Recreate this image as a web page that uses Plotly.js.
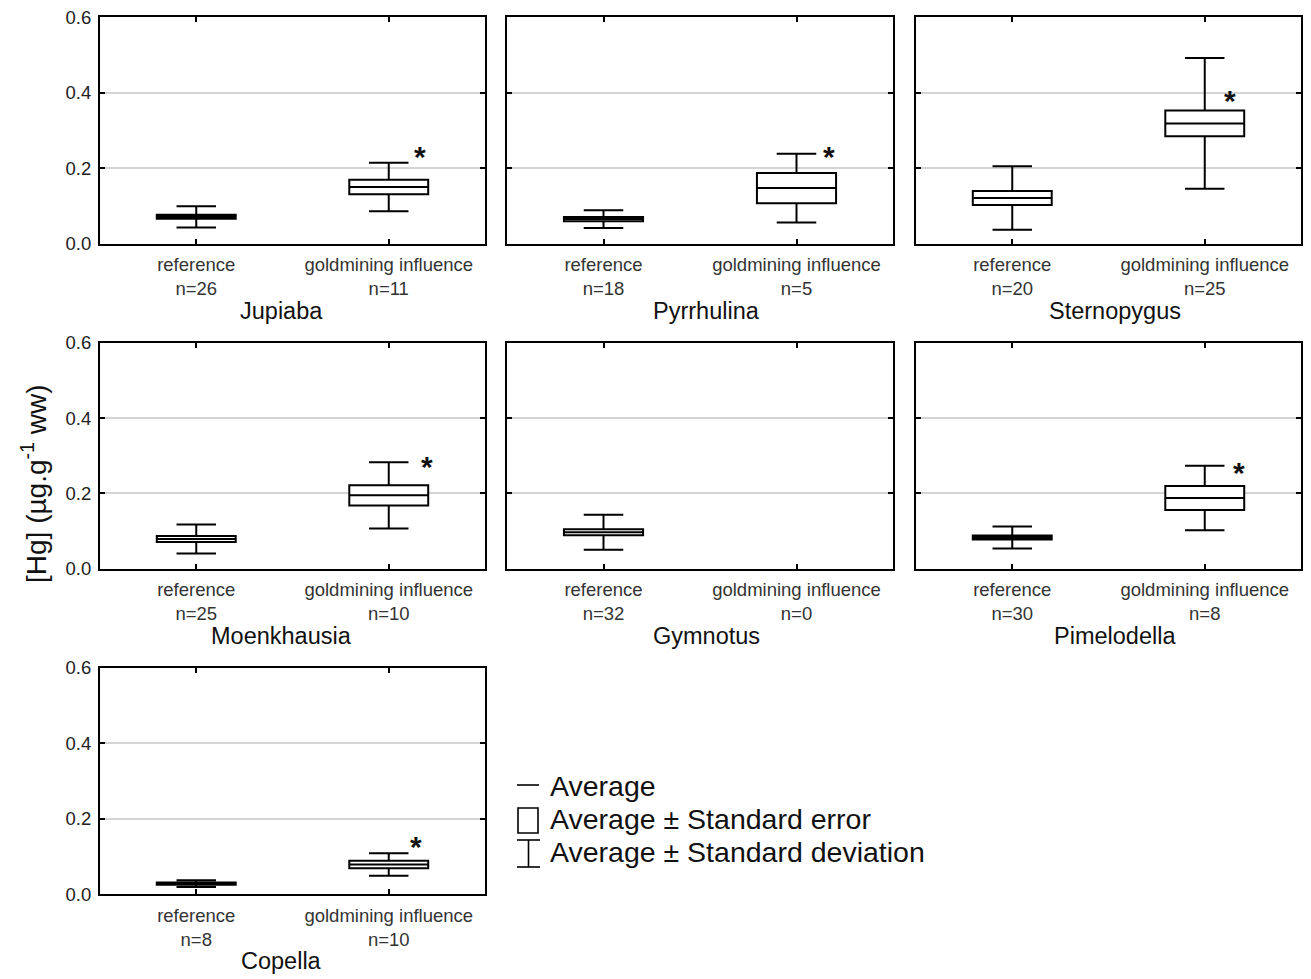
<!DOCTYPE html>
<html>
<head>
<meta charset="utf-8">
<script src="https://cdn.plot.ly/plotly-3.0.1.min.js"></script>
<style>html,body{margin:0;padding:0;background:#fff;}#chart{width:1311px;height:979px;}</style>
</head>
<body>
<div id="chart"></div>
<script>
// ---- data ----
const species   = ['Jupiaba','Pyrrhulina','Sternopygus','Moenkhausia','Gymnotus','Pimelodella','Copella'];
const groups    = ['reference','goldmining influence'];
const nRef      = [26, 18, 20, 25, 32, 30, 8];
const nGold     = [11, 5, 25, 10, 0, 8, 10];
const refMean   = [0.072, 0.066, 0.122, 0.079, 0.097, 0.083, 0.028];
const refSE     = [0.0055, 0.0055, 0.0185, 0.0078, 0.0082, 0.0053, 0.003];
const refSD     = [0.028, 0.0235, 0.084, 0.0385, 0.0465, 0.029, 0.009];
const goldMean  = [0.151, 0.148, 0.319, 0.195, null, 0.188, 0.079];
const goldSE    = [0.019, 0.040, 0.034, 0.027, null, 0.032, 0.010];
const goldSD    = [0.064, 0.091, 0.173, 0.088, null, 0.086, 0.030];
const significant = [true, true, true, true, false, true, true];
const starX     = [1.16, 1.17, 1.13, 1.20, null, 1.18, 1.14];
const starY     = [0.240, 0.240, 0.389, 0.281, null, 0.263, 0.135];
const yTickVals = [0, 0.2, 0.4, 0.6];
const legendLabels = ['Average', 'Average \u00b1 Standard error', 'Average \u00b1 Standard deviation'];
const yTitle = '[Hg] (\u00b5g.g<sup>-1</sup> ww)';

// ---- layout geometry ----
const W = 1311, H = 979;
const colPx = [[100, 485], [507, 893], [916, 1301]];
const rowPx = [[17.3, 244], [343, 568.7], [667.7, 894.3]];
const titleShift = [-11, 6, 6];
const px = x => x / W;
const py = y => 1 - y / H;
const FONT = 'Liberation Sans, Arial, sans-serif';

const traces = [];
const layout = {
  width: W, height: H,
  margin: {l: 0, r: 0, t: 0, b: 0},
  paper_bgcolor: '#fff', plot_bgcolor: '#fff',
  showlegend: false,
  font: {family: FONT, color: '#111'},
  annotations: [], shapes: []
};

function boxTrace(k, xpos, mean, se, sd) {
  const ax = k === 1 ? '' : String(k);
  return {
    type: 'box', orientation: 'v',
    x: [xpos],
    q1: [mean - se], median: [mean], q3: [mean + se],
    lowerfence: [mean - sd], upperfence: [mean + sd],
    width: 0.41, whiskerwidth: 0.5,
    boxpoints: false,
    line: {color: '#000', width: 2},
    fillcolor: '#fff',
    hoverinfo: 'skip',
    xaxis: 'x' + ax, yaxis: 'y' + ax
  };
}

species.forEach((name, i) => {
  const k = i + 1;
  const row = Math.floor(i / 3), col = i % 3;
  const ax = k === 1 ? '' : String(k);
  const [x0, x1] = colPx[col];
  const [y0, y1] = rowPx[row];
  traces.push(boxTrace(k, 0, refMean[i], refSE[i], refSD[i]));
  if (nGold[i] > 0 && goldMean[i] !== null) {
    traces.push(boxTrace(k, 1, goldMean[i], goldSE[i], goldSD[i]));
  }
  layout['xaxis' + ax] = {
    domain: [px(x0), px(x1)],
    anchor: 'y' + ax,
    type: 'linear', range: [-0.5, 1.5],
    tickvals: [0, 1],
    ticktext: [groups[0] + '<br>n=' + nRef[i], groups[1] + '<br>n=' + nGold[i]],
    ticks: 'inside', ticklen: 5, tickwidth: 2, tickcolor: '#000',
    showline: true, linecolor: '#000', linewidth: 2, mirror: 'ticks',
    showgrid: false, zeroline: false,
    tickfont: {family: FONT, size: 18.5, color: '#333'},
    ticklabelstandoff: 3,
    fixedrange: true
  };
  layout['yaxis' + ax] = {
    domain: [py(y1), py(y0)],
    anchor: 'x' + ax,
    range: [0, 0.6],
    tickvals: yTickVals,
    tickformat: '.1f',
    showticklabels: col === 0,
    ticks: 'inside', ticklen: 5, tickwidth: 2, tickcolor: '#000',
    showline: true, linecolor: '#000', linewidth: 2, mirror: 'ticks',
    showgrid: true, gridcolor: '#d4d4d4', gridwidth: 2,
    zeroline: false,
    tickfont: {family: FONT, size: 18.5, color: '#222'},
    ticklabelstandoff: 3,
    fixedrange: true
  };
  // panel title
  layout.annotations.push({
    xref: 'paper', yref: 'paper',
    x: px((x0 + x1) / 2 + titleShift[col]), y: py(y1 + 67),
    xanchor: 'center', yanchor: 'middle',
    text: name, showarrow: false,
    font: {family: FONT, size: 23.5, color: '#111'}
  });
  // significance star
  if (significant[i]) {
    layout.annotations.push({
      xref: 'x' + ax, yref: 'y' + ax,
      x: starX[i], y: starY[i],
      text: '<b>*</b>', showarrow: false,
      xanchor: 'center', yanchor: 'middle', yshift: -3,
      font: {family: FONT, size: 30, color: '#111'}
    });
  }
});

// y-axis title
layout.annotations.push({
  xref: 'paper', yref: 'paper',
  x: px(34), y: py(484),
  xanchor: 'center', yanchor: 'middle',
  textangle: -90, text: yTitle, showarrow: false,
  font: {family: FONT, size: 28, color: '#111'}
});

// legend text
const legY = [786, 819, 852];
legendLabels.forEach((t, j) => {
  layout.annotations.push({
    xref: 'paper', yref: 'paper',
    x: px(548), y: py(legY[j]),
    xanchor: 'left', yanchor: 'middle',
    text: t, showarrow: false,
    font: {family: FONT, size: 28.5, color: '#111'}
  });
});
// legend symbols
const lk = {color: '#000', width: 1.6};
layout.shapes.push(
  {type: 'line', xref: 'paper', yref: 'paper', x0: px(517), x1: px(539), y0: py(785), y1: py(785), line: lk},
  {type: 'rect', xref: 'paper', yref: 'paper', x0: px(518), x1: px(538), y0: py(808), y1: py(833), line: lk},
  {type: 'line', xref: 'paper', yref: 'paper', x0: px(517), x1: px(540), y0: py(840), y1: py(840), line: lk},
  {type: 'line', xref: 'paper', yref: 'paper', x0: px(528.5), x1: px(528.5), y0: py(840), y1: py(867), line: lk},
  {type: 'line', xref: 'paper', yref: 'paper', x0: px(517), x1: px(540), y0: py(867), y1: py(867), line: lk}
);

Plotly.newPlot('chart', traces, layout, {staticPlot: true, displayModeBar: false});
</script>
</body>
</html>
